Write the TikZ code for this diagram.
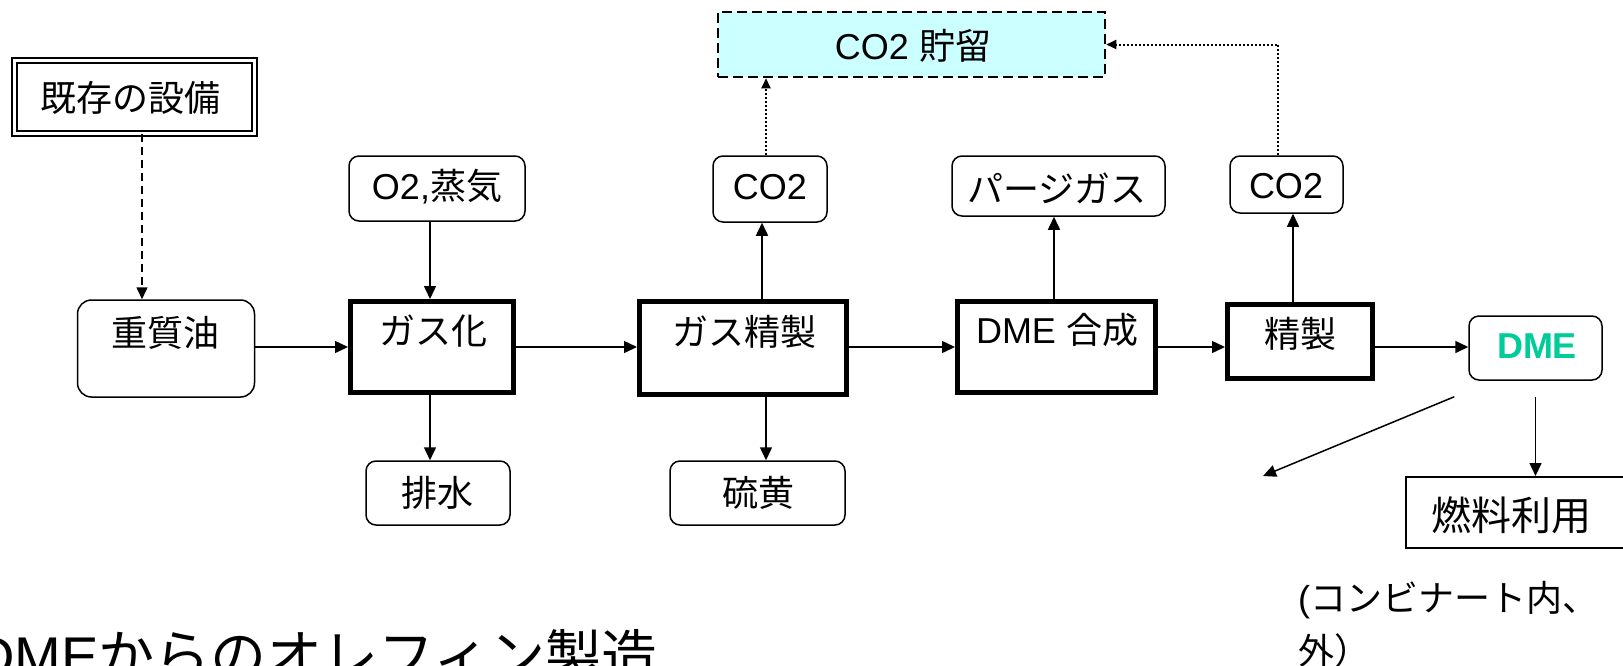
\documentclass[tikz,border=0pt]{standalone}
\usepackage{fontspec}
\setmainfont{Liberation Sans}
\newfontfamily\jp{Noto Sans CJK JP}
\usetikzlibrary{arrows.meta,calc}
\definecolor{ccsfill}{RGB}{204,255,255}
\definecolor{dmegreen}{RGB}{0,204,153}
\begin{document}
\begin{tikzpicture}[x=1pt,y=-1pt,
  every node/.style={inner sep=0pt},
  txt/.style={font=\fontsize{36}{40}\selectfont},
  thinbox/.style={draw, line width=1.5pt, rounded corners=10pt},
  plainbox/.style={draw, line width=2pt},
  thickbox/.style={draw, line width=5pt},
  dblbox/.style={draw, double, double distance=3pt, line width=2pt},
  ccsbox/.style={draw, fill=ccsfill, line width=2.5pt, dash pattern=on 10pt off 5pt},
  arr/.style={line width=1.5pt, -{Triangle[length=13pt,width=12pt]}},
  dasharr/.style={line width=1.5pt, dash pattern=on 8pt off 5pt, -{Triangle[length=12pt,width=11pt]}},
  dotarr/.style={line width=2pt, dash pattern=on 2pt off 2pt, -{Triangle[length=10pt,width=9pt]}}
]
\useasboundingbox (0,0) rectangle (1623,665);
\fill[white] (0,0) rectangle (1623,665);
\clip (0,0) rectangle (1623,665);

% helper coordinates
\coordinate (ym) at (0,347);
\coordinate (xk) at (142,0);
\coordinate (xa) at (430,0);
\coordinate (xg1) at (762,0);
\coordinate (xg2) at (766,0);
\coordinate (xd) at (766,0);
\coordinate (xp) at (1054,0);
\coordinate (xs) at (1293,0);
\coordinate (xr) at (1278,0);
\coordinate (olef) at (1263,476);

% boxes
\node[dblbox, minimum width=240pt, minimum height=73pt] (kizon) at (134,96.5) {};
\node[thinbox, rounded corners=14pt, minimum width=177pt, minimum height=97pt] (oil) at (166,348.5) {};
\node[thickbox, minimum width=163pt, minimum height=91pt] (gk) at (432,347) {};
\node[thinbox, minimum width=176pt, minimum height=65pt] (o2) at (437,188.5) {};
\node[thinbox, minimum width=144pt, minimum height=64pt] (drain) at (438,493) {};
\node[thickbox, minimum width=207pt, minimum height=93pt] (gp) at (743,348) {};
\node[thinbox, minimum width=175pt, minimum height=64pt] (sulfur) at (757.5,493) {};
\node[thinbox, minimum width=114pt, minimum height=66pt] (co2l) at (770,189) {};
\node[ccsbox, minimum width=387pt, minimum height=65pt] (ccs) at (911.5,44.5) {};
\node[thinbox, minimum width=213pt, minimum height=60pt] (purge) at (1058.5,186) {};
\node[thickbox, minimum width=198pt, minimum height=91pt] (dmes) at (1056.5,347) {};
\node[thickbox, minimum width=145pt, minimum height=74pt] (sei) at (1300,341.5) {};
\node[thinbox, minimum width=113pt, minimum height=57pt] (co2r) at (1286.5,184.5) {};
\node[thinbox, minimum width=133pt, minimum height=64pt] (dme) at (1535.5,348) {};
\node[plainbox, minimum width=234pt, minimum height=71pt] (fuel) at (1523,512.5) {};

% texts
\node[txt] (kizon-t) at (130,98) {\jp 既存の設備};
\node[txt] (oil-t) at (165,333) {\jp 重質油};
\node[txt] (gk-t) at (433,331) {\jp ガス化};
\node[txt] (o2-t) at (437,187) {O2,{\jp 蒸気}};
\node[txt] (drain-t) at (437,493) {\jp 排水};
\node[txt] (gp-t) at (744,332) {\jp ガス精製};
\node[txt] (sulfur-t) at (758,493) {\jp 硫黄};
\node[txt] (co2l-t) at (770,187) {CO2};
\node[txt] (ccs-t) at (913,46) {CO2 {\jp 貯留}};
\node[txt] (purge-t) at (1057,188) {\jp パージガス};
\node[txt] (dmes-t) at (1057,330) {DME {\jp 合成}};
\node[txt] (sei-t) at (1300,334) {\jp 精製};
\node[txt] (co2r-t) at (1286,186) {CO2};
\node[font=\fontsize{36}{40}\selectfont\bfseries, text=dmegreen] (dme-t) at (1537,346) {DME};
\node[font=\fontsize{40}{44}\selectfont] (fuel-t) at (1511,515) {\jp 燃料利用};
\node[txt, anchor=base west] (kom1) at (1298,611) {({\jp コンビナート内、}};
\node[txt, anchor=base west] (kom2) at (1298,664) {\jp 外）};
\node[font=\fontsize{56}{60}\selectfont, anchor=base west] (title) at (-26,676) {DME{\jp からのオレフィン製造}};

% connectors
\draw[dasharr] (kizon.south -| xk) -- (oil.north -| xk);
\draw[arr] (oil.east |- ym) -- (gk.west |- ym);
\draw[arr] (o2.south -| xa) -- (gk.north -| xa);
\draw[arr] (gk.south -| xa) -- (drain.north -| xa);
\draw[arr] (gk.east |- ym) -- (gp.west |- ym);
\draw[arr] (gp.north -| xg1) -- (co2l.south -| xg1);
\draw[arr] (gp.south -| xg2) -- (sulfur.north -| xg2);
\draw[dotarr] (co2l.north -| xd) -- (ccs.south -| xd);
\draw[arr] (gp.east |- ym) -- (dmes.west |- ym);
\draw[arr] (dmes.north -| xp) -- (purge.south -| xp);
\draw[arr] (dmes.east |- ym) -- (sei.west |- ym);
\draw[arr] (sei.north -| xs) -- (co2r.south -| xs);
\draw[dotarr] (co2r.north -| xr) |- (ccs.east);
\draw[arr] (sei.east |- ym) -- (dme.west |- ym);
\draw[arr] ([xshift=-14pt,yshift=-16pt]dme.south west) -- (olef);
\draw[arr] ([yshift=-16pt]dme.south) -- (dme.south |- fuel.north);
\end{tikzpicture}
\end{document}
